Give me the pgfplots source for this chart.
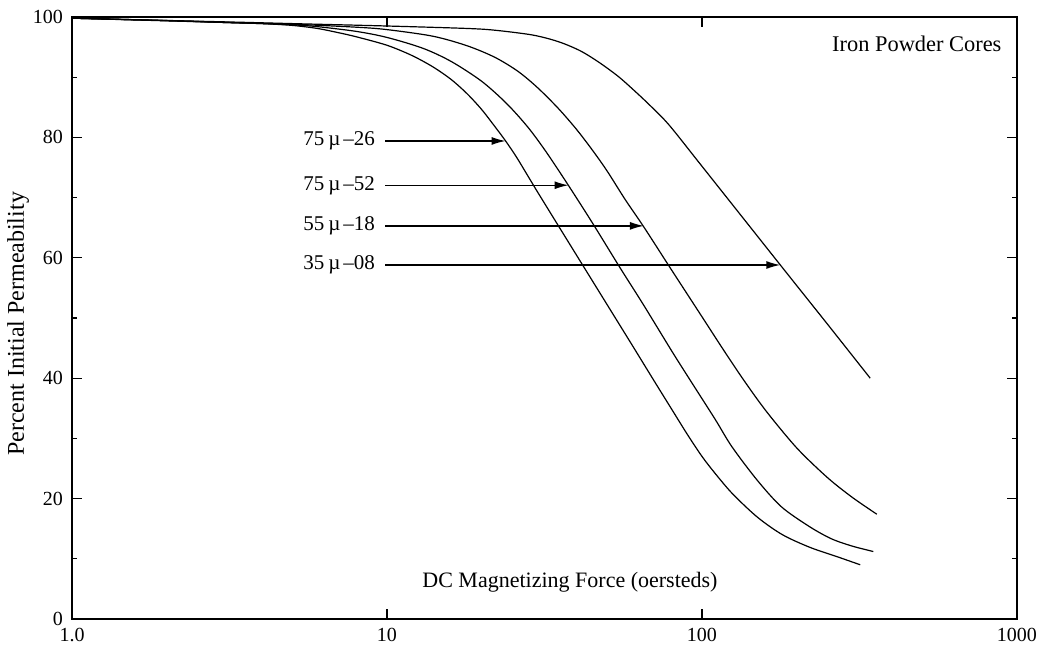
\documentclass[border=0pt]{standalone}
\usepackage{fontspec}
\setmainfont{Liberation Serif}
\usepackage{pgfplots}
\pgfplotsset{compat=1.18}
\usetikzlibrary{arrows.meta}
\begin{document}
\begin{tikzpicture}
\begin{axis}[
  scale only axis, width=472.5pt, height=301pt,
  xmode=log, log basis x=10,
  xmin=1, xmax=1000, ymin=0, ymax=100,
  xtick={1,10,100,1000}, xticklabels={1.0,10,100,1000},
  ytick={0,20,40,60,80,100}, yticklabels={0,20,40,60,80,100},
  minor ytick={10,30,50,70,90},
  tick align=inside,
  major tick length=5pt, minor tick length=2.3pt,
  axis line style={line width=0.8pt},
  every tick/.style={black, line width=0.6pt},
  tick label style={font=\fontsize{10}{12}\selectfont},
  xticklabel style={yshift=-1pt},
  yticklabel style={xshift=-1pt},
  clip=false,
]
% 75u-26
\addplot[black, line width=0.6pt, smooth, tension=0.5] coordinates {
(1,99.8)(2,99.4)(3,99.1)(4,98.9)(5,98.6)(6,98.1)(7,97.4)(8,96.7)(10,95.3)(12,93.6)(14,91.7)(16,89.6)(18,87.2)(20,84.6)(22,81.8)(23.8,79.4)(26,76.4)(30,71.0)(40,60.4)(50,52.2)(60,45.5)(70,39.8)(80,34.9)(90,30.6)(100,27.0)(110,24.2)(125,20.8)(150,16.9)(180,14.0)(220,11.9)(270,10.3)(318,9.0)
};
% 75u-52
\addplot[black, line width=0.6pt, smooth, tension=0.5] coordinates {
(1,99.8)(2,99.4)(3,99.1)(4,98.9)(5,98.7)(6,98.4)(8,97.6)(10,96.6)(13,94.8)(16,92.6)(20,89.3)(24,85.6)(28,81.7)(32,77.6)(37.7,72.0)(45,65.7)(55,58.3)(65,52.3)(80.4,44.4)(91.9,39.6)(110,33.2)(124.5,28.6)(150,23.0)(179,18.6)(220,15.3)(258,13.3)(300,12.1)(350,11.2)
};
% 55u-18
\addplot[black, line width=0.6pt, smooth, tension=0.5] coordinates {
(1,99.8)(3,99.1)(5,98.8)(8,98.3)(10,97.9)(14,96.8)(18,95.2)(22,93.3)(26,91.0)(30,88.3)(35,84.8)(40,81.3)(45,77.8)(50,74.4)(57,69.7)(65.4,65.1)(80,58.0)(100,50.2)(117,44.7)(136,39.6)(160,34.5)(200,28.4)(250,23.5)(300,20.2)(359,17.4)
};
% 35u-08
\addplot[black, line width=0.6pt, smooth, tension=0.5] coordinates {
(1,99.8)(3,99.2)(5,98.9)(10,98.5)(17.8,98.1)(22,97.8)(29,97.0)(35,95.9)(41,94.4)(47,92.5)(54,90.2)(60,88.1)(67.8,85.5)(78.5,82.1)(100,75.2)(177.3,58.8)(250,49.0)(342,40.0)
};
% arrows
\addplot[black, line width=0.7pt, -{Latex[length=7pt,width=4pt]}] coordinates {(9.88,79.4)(23.8,79.4)};
\addplot[black, line width=0.7pt, -{Latex[length=7pt,width=4pt]}] coordinates {(9.88,72.05)(37.7,72.05)};
\addplot[black, line width=0.7pt, -{Latex[length=7pt,width=4pt]}] coordinates {(9.88,65.3)(65.4,65.3)};
\addplot[black, line width=0.7pt, -{Latex[length=7pt,width=4pt]}] coordinates {(9.88,58.8)(177.3,58.8)};
\begin{scope}[every node/.style={anchor=east, inner sep=0pt, xshift=-5pt, font=\fontsize{10.5}{12}\selectfont}]
\node at (axis cs:9.88,79.4) {75\kern2pt µ\kern1.5pt–26};
\node at (axis cs:9.88,72.0) {75\kern2pt µ\kern1.5pt–52};
\node at (axis cs:9.88,65.3) {55\kern2pt µ\kern1.5pt–18};
\node at (axis cs:9.88,58.8) {35\kern2pt µ\kern1.5pt–08};
\end{scope}
\node[anchor=east, inner sep=0pt, font=\fontsize{11.2}{13}\selectfont] at (rel axis cs:0.984,0.955) {Iron Powder Cores};
\node[inner sep=0pt, font=\fontsize{11}{13}\selectfont] at (rel axis cs:0.527,0.061) {DC Magnetizing Force (oersteds)};
\node[rotate=90, inner sep=0pt, font=\fontsize{12}{14}\selectfont] at (rel axis cs:-0.057,0.49) {Percent Initial Permeability};
\coordinate (bbA) at (rel axis cs:-0.0762,-0.0498);
\coordinate (bbB) at (rel axis cs:1.0286,1.0282);
\end{axis}
\path (bbA) rectangle (bbB);
\end{tikzpicture}
\end{document}
